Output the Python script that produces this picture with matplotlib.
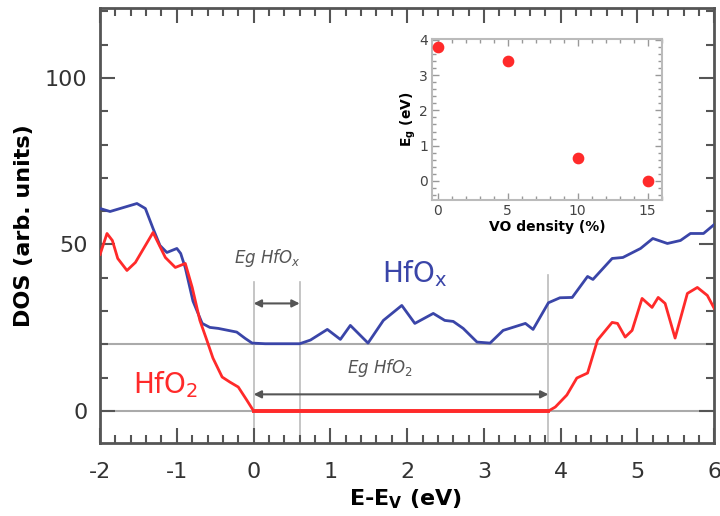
import numpy as np
import matplotlib
matplotlib.use('Agg')
import matplotlib.pyplot as plt
from matplotlib.ticker import MultipleLocator

plt.rcParams['font.family'] = ['DejaVu Sans']
plt.rcParams['axes.unicode_minus'] = False

# HfOx (oxygen deficient) DOS
e_hfox = [-2.0, -1.87, -1.52, -1.41, -1.31, -1.22, -1.13, -1.0, -0.95, -0.89, -0.79,
          -0.67, -0.57, -0.46, -0.33, -0.22, -0.11, -0.02, 0.15, 0.6, 0.74, 0.96, 1.13,
          1.26, 1.49, 1.69, 1.93, 2.1, 2.34, 2.49, 2.6, 2.73, 2.91, 3.08, 3.25, 3.54,
          3.64, 3.84, 3.99, 4.15, 4.35, 4.42, 4.67, 4.81, 5.04, 5.2, 5.39, 5.56, 5.69,
          5.86, 6.0]
dos_hfox = [60.8, 59.9, 62.3, 60.8, 54.8, 49.7, 47.6, 48.8, 47.3, 43.0, 33.0,
            26.3, 25.1, 24.8, 24.2, 23.7, 21.8, 20.4, 20.2, 20.2, 21.3, 24.5, 21.5,
            25.7, 20.4, 27.2, 31.7, 26.3, 29.3, 27.2, 26.9, 24.8, 20.7, 20.4, 24.2, 26.3,
            24.5, 32.5, 34.0, 34.1, 40.4, 39.5, 45.8, 46.1, 48.8, 51.8, 50.3, 51.2, 53.3,
            53.3, 56.0]

# stoichiometric HfO2 DOS
e_hfo2 = [-2.0, -1.91, -1.84, -1.77, -1.65, -1.54, -1.31, -1.15, -1.02, -0.89, -0.8,
          -0.7, -0.61, -0.53, -0.41, -0.31, -0.2, -0.09, 0.0, 3.84, 3.93, 4.08, 4.21,
          4.35, 4.48, 4.67, 4.74, 4.84, 4.93, 5.06, 5.19, 5.27, 5.36, 5.49, 5.65, 5.78,
          5.91, 6.0]
dos_hfo2 = [47.0, 53.3, 51.2, 45.8, 42.2, 44.6, 53.6, 46.1, 43.1, 44.3, 37.1,
            27.2, 21.3, 15.9, 10.2, 8.7, 7.2, 3.3, 0.0, 0.0, 1.2, 4.8, 9.9,
            11.4, 21.3, 26.6, 26.3, 22.2, 24.2, 33.8, 31.1, 34.1, 32.3, 21.9, 35.3, 37.1,
            34.7, 30.8]

# band gaps
eg_hfox = 0.6
eg_hfo2 = 3.84

# inset: gap vs oxygen vacancy density
vo_density = [0, 5, 10, 15]
eg_values = [3.8, 3.4, 0.65, 0.0]

blue = '#3a45a8'
red = '#ff2a2a'
gray = '#555555'

fig = plt.figure(figsize=(7.2, 5.16), dpi=100)
ax = fig.add_axes([0.139, 0.1415, 0.853, 0.843])

# reference levels
ax.axhline(0, color='#aaaaaa', lw=1.5, zorder=1)
ax.axhline(20, color='#aaaaaa', lw=1.5, zorder=1)
for x0, ytop in [(0, 38.6), (eg_hfox, 38.6), (eg_hfo2, 40.7)]:
    ax.plot([x0, x0], [-9.6, ytop], color='#bbbbbb', lw=1.2, zorder=1)

ax.plot(e_hfox, dos_hfox, color=blue, lw=2, zorder=3)
ax.plot(e_hfo2, dos_hfo2, color=red, lw=2, zorder=3)
ax.plot([0, eg_hfo2], [0, 0], color=red, lw=2.8, zorder=3)

# gap arrows
arrow = dict(arrowstyle='<|-|>', color=gray, lw=1.5, mutation_scale=11, shrinkA=0, shrinkB=0)
ax.annotate('', xy=(eg_hfox, 32.3), xytext=(0, 32.3), arrowprops=arrow)
ax.annotate('', xy=(eg_hfo2, 5), xytext=(0, 5), arrowprops=arrow)

ax.text(0.18, 46, 'Eg HfO$_x$', style='italic', color=gray, fontsize=12,
        ha='center', va='center')
ax.text(1.65, 12.9, 'Eg HfO$_2$', style='italic', color=gray, fontsize=12,
        ha='center', va='center')
ax.text(1.67, 38.6, 'HfO$_\\mathregular{x}$', color=blue, fontsize=20, ha='left', va='baseline')
ax.text(-1.57, 5.4, 'HfO$_2$', color=red, fontsize=20, ha='left', va='baseline')

ax.set_xlim(-2, 6)
ax.set_ylim(-9.6, 121)
ax.xaxis.set_major_locator(MultipleLocator(1))
ax.xaxis.set_minor_locator(MultipleLocator(0.2))
ax.yaxis.set_major_locator(MultipleLocator(50))
ax.yaxis.set_minor_locator(MultipleLocator(10))
ax.tick_params(which='both', direction='in', top=True, right=True, color=gray, width=1.5,
               labelsize=16, labelcolor='#333333')
ax.tick_params(which='major', length=11)
ax.tick_params(which='minor', length=6)
ax.tick_params(axis='x', pad=14)
ax.tick_params(axis='y', pad=9)
for s in ax.spines.values():
    s.set_color(gray)
    s.set_linewidth(2)

ax.set_xlabel('E-E$_\\mathbf{V}$ (eV)', fontsize=16, fontweight='bold')
ax.set_ylabel('DOS (arb. units)', fontsize=16, fontweight='bold')
ax.xaxis.set_label_coords(0.498, -0.103)
ax.yaxis.set_label_coords(-0.108, 0.5)

# inset
ins = fig.add_axes([0.6, 0.612, 0.319, 0.312])
ins.scatter(vo_density, eg_values, s=55, color=red, zorder=3)
ins.set_xlim(-0.4, 16)
ins.set_ylim(-0.55, 4.02)
ins.xaxis.set_major_locator(MultipleLocator(5))
ins.xaxis.set_minor_locator(MultipleLocator(1))
ins.yaxis.set_major_locator(MultipleLocator(1))
ins.yaxis.set_minor_locator(MultipleLocator(0.2))
ins.tick_params(which='both', direction='in', top=True, right=True, color='#999999',
                labelsize=10, labelcolor='#444444', pad=3)
ins.tick_params(which='major', length=5, width=1)
ins.tick_params(which='minor', length=3, width=1)
for s in ins.spines.values():
    s.set_color('#bbbbbb')
    s.set_linewidth(1.5)
ins.set_xlabel('VO density (%)', fontsize=10, fontweight='bold', labelpad=1)
ins.set_ylabel('E$_\\mathbf{g}$ (eV)', fontsize=10, fontweight='bold', labelpad=1)

fig.savefig('out.png', dpi=100)
